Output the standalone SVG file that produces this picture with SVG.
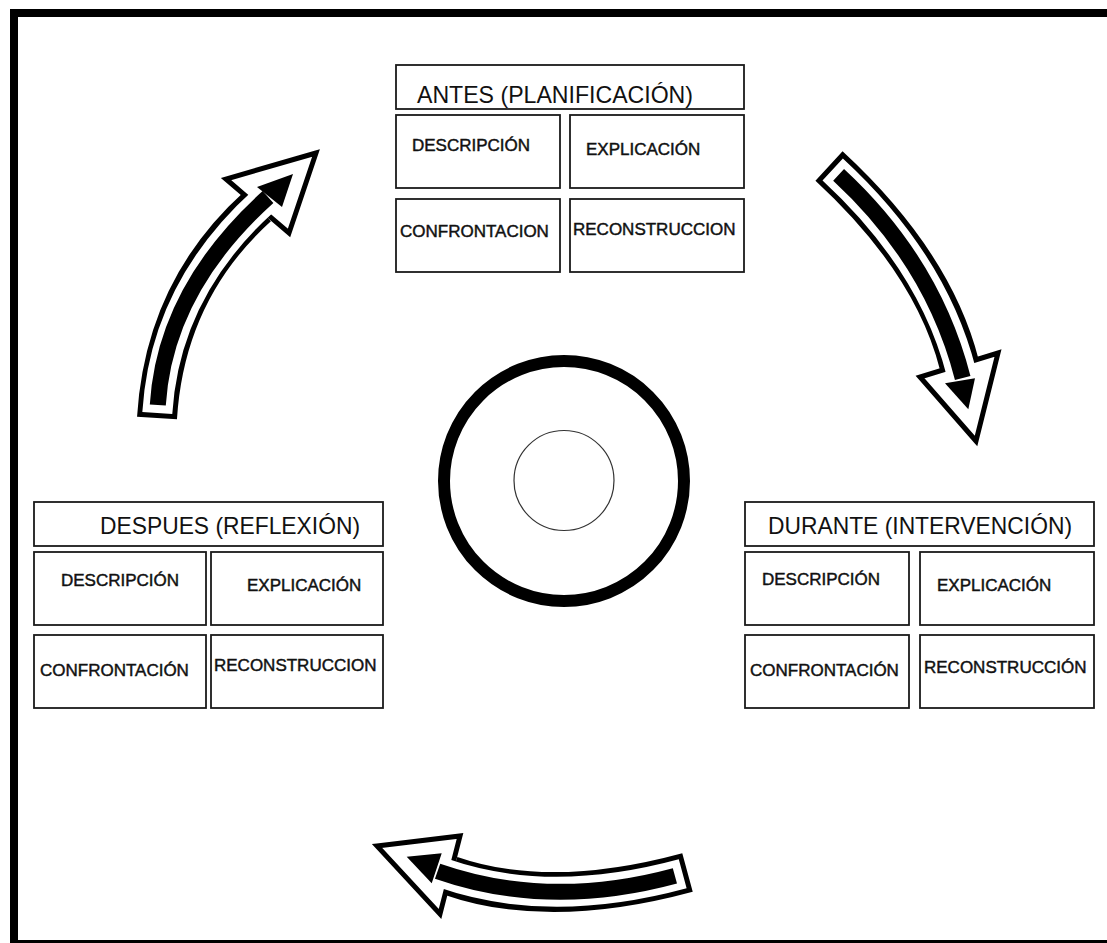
<svg xmlns="http://www.w3.org/2000/svg" width="1107" height="943" viewBox="0 0 1107 943">
<style>
.box{fill:#fff;stroke:#1a1a1a;stroke-width:1.8}
.t{font-family:"Liberation Sans",Arial,sans-serif;font-size:24px;fill:#111}
.l{font-family:"Liberation Sans",Arial,sans-serif;font-size:17px;fill:#111;stroke:#111;stroke-width:0.45}
.o{fill:none;stroke:#000;stroke-width:40}
.w{fill:none;stroke:#fff;stroke-width:30}
.i{fill:none;stroke:#000;stroke-width:16}
.ho{fill:#fff;stroke:#000;stroke-width:5;stroke-linejoin:miter;stroke-miterlimit:10}
.hi{fill:#000}
</style>
<rect width="1107" height="943" fill="#fff"/>
<g id="frame" fill="#000">
<rect x="10" y="9" width="1097" height="8"/>
<rect x="10" y="9" width="8" height="934"/>
<rect x="10" y="940" width="1097" height="3"/>
</g>
<g id="center">
<circle cx="564" cy="481" r="120" fill="none" stroke="#000" stroke-width="12"/>
<circle cx="564" cy="480.5" r="50" fill="none" stroke="#333" stroke-width="1.2"/>
</g>
<g id="antes">
<g id="antes-title"><rect class="box" x="396" y="65" width="348" height="44"/><text class="t" x="417" y="103" textLength="276" lengthAdjust="spacingAndGlyphs">ANTES (PLANIFICACIÓN)</text></g>
<g id="antes-desc"><rect class="box" x="396" y="115" width="164" height="73"/><text class="l" x="412" y="151">DESCRIPCIÓN</text></g>
<g id="antes-expl"><rect class="box" x="570" y="115" width="174" height="73"/><text class="l" x="586" y="155">EXPLICACIÓN</text></g>
<g id="antes-conf"><rect class="box" x="396" y="199" width="164" height="73"/><text class="l" x="400" y="237">CONFRONTACION</text></g>
<g id="antes-reco"><rect class="box" x="570" y="199" width="174" height="73"/><text class="l" x="573" y="235">RECONSTRUCCION</text></g>
</g>
<g id="despues">
<g id="despues-title"><rect class="box" x="34" y="502" width="349" height="44"/><text class="t" x="100" y="534" textLength="260" lengthAdjust="spacingAndGlyphs">DESPUES (REFLEXIÓN)</text></g>
<g id="despues-desc"><rect class="box" x="34" y="552" width="172" height="73"/><text class="l" x="61" y="586">DESCRIPCIÓN</text></g>
<g id="despues-expl"><rect class="box" x="211" y="552" width="172" height="73"/><text class="l" x="247" y="591">EXPLICACIÓN</text></g>
<g id="despues-conf"><rect class="box" x="34" y="635" width="172" height="73"/><text class="l" x="40" y="676">CONFRONTACIÓN</text></g>
<g id="despues-reco"><rect class="box" x="211" y="635" width="172" height="73"/><text class="l" x="214" y="671">RECONSTRUCCION</text></g>
</g>
<g id="durante">
<g id="durante-title"><rect class="box" x="745" y="502" width="349" height="44"/><text class="t" x="768" y="534" textLength="304" lengthAdjust="spacingAndGlyphs">DURANTE (INTERVENCIÓN)</text></g>
<g id="durante-desc"><rect class="box" x="745" y="552" width="164" height="73"/><text class="l" x="762" y="585">DESCRIPCIÓN</text></g>
<g id="durante-expl"><rect class="box" x="920" y="552" width="174" height="73"/><text class="l" x="937" y="591">EXPLICACIÓN</text></g>
<g id="durante-conf"><rect class="box" x="745" y="635" width="164" height="73"/><text class="l" x="750" y="676">CONFRONTACIÓN</text></g>
<g id="durante-reco"><rect class="box" x="920" y="635" width="174" height="73"/><text class="l" x="924" y="673">RECONSTRUCCIÓN</text></g>
</g>
<g id="connectors">
<g id="arrow-despues-antes">
<path class="o" d="M157,418 Q165,290 257.5,206.5"/>
<polygon class="ho" points="316,153 226,179 289,233"/>
<path class="w" d="M157.3,413 Q165,290 263.4,201.1"/>
<path class="i" d="M157.8,405 Q165,290 268,197"/>
<polygon class="hi" points="293,174 257,187 282,207"/>
</g>
<g id="arrow-antes-durante">
<path class="o" d="M829,166 Q933,262 959.2,364.2"/>
<polygon class="ho" points="976,441 920,377 998,353"/>
<path class="w" d="M832.7,169.4 Q933,262 961.2,372"/>
<path class="i" d="M838.6,174.8 Q933,262 962.7,378"/>
<polygon class="hi" points="968.3,409.3 945,383.3 975,378.3"/>
</g>
<g id="arrow-durante-despues">
<path class="o" d="M687.5,872.5 Q549,910 450.8,875.8"/>
<polygon class="ho" points="377,846 460,836 440,914"/>
<path class="w" d="M682.7,873.8 Q549,910 443.2,873.2"/>
<path class="i" d="M674.9,875.9 Q549,910 437.6,871.2"/>
<polygon class="hi" points="406.7,856.7 441.7,853.3 431.7,883.3"/>
</g>
</g>
</svg>
